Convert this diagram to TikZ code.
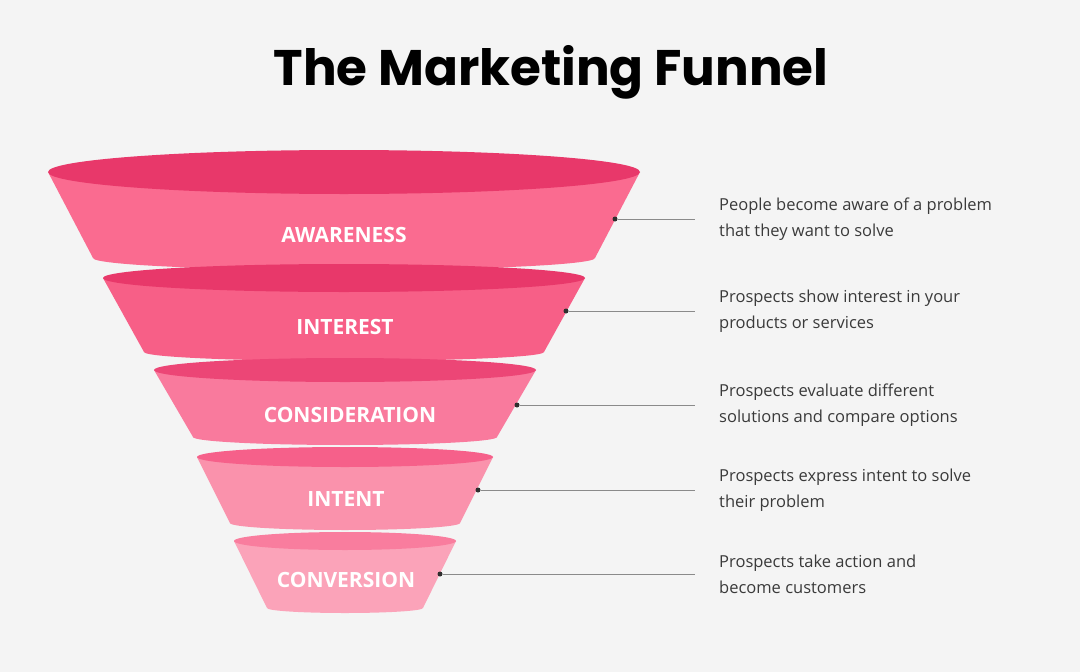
\documentclass[tikz,border=0pt]{standalone}
\usepackage{fontspec}
\setmainfont{Open Sans}
\newfontfamily\titlefont{Poppins}
\definecolor{bg}{HTML}{F4F4F4}
\definecolor{txt}{HTML}{3A3A3A}
\definecolor{ln}{HTML}{8A8A8A}
\definecolor{topA}{HTML}{E8386A}\definecolor{bodyA}{HTML}{FA6B90}
\definecolor{topB}{HTML}{E8386A}\definecolor{bodyB}{HTML}{F75F87}
\definecolor{topC}{HTML}{EC4676}\definecolor{bodyC}{HTML}{F97A9D}
\definecolor{topD}{HTML}{F6608A}\definecolor{bodyD}{HTML}{FA92AC}
\definecolor{topE}{HTML}{F97D9E}\definecolor{bodyE}{HTML}{FBA3B9}
\newcommand{\funseg}[9]{%
  \fill[#9] ({#1-#3},{-#2}) -- ({#1-#6},{-#5}) arc[start angle=180,end angle=360,x radius=#6,y radius=#7] -- ({#1+#3},{-#2}) -- cycle;
  \fill[#8] (#1,{-#2}) ellipse[x radius=#3,y radius=#4];}
\begin{document}
\begin{tikzpicture}[x=1pt,y=1pt,
  lab/.style={text=white,font=\fontsize{21}{24}\selectfont\bfseries,inner sep=0pt},
  desc/.style={text=txt,font=\fontsize{16.5}{26}\selectfont,align=left,anchor=west,inner sep=0pt},
  dot/.style={circle,fill=txt!80!black,minimum size=5pt,inner sep=0pt},
  conn/.style={ln,line width=0.9pt}]
\fill[bg] (0,0) rectangle (1080,-672);
\useasboundingbox (0,0) rectangle (1080,-672);
\node[font=\titlefont\fontsize{50}{56}\selectfont\bfseries,text=black] (title) at (551,-72) {The Marketing Funnel};
\funseg{344}{172}{296}{22}{258}{251}{12}{topA}{bodyA}
\funseg{344}{278}{241}{14}{352}{200}{9}{topB}{bodyB}
\funseg{345}{370}{191}{12}{437}{152}{8}{topC}{bodyC}
\funseg{345}{457}{148}{10}{523}{115}{7}{topD}{bodyD}
\funseg{345}{541}{111}{9}{608}{78}{5}{topE}{bodyE}
\node[lab] (l1) at (344,-235) {AWARENESS};
\node[lab] (l2) at (345,-327) {INTEREST};
\node[lab] (l3) at (350,-415) {CONSIDERATION};
\node[lab] (l4) at (346,-499) {INTENT};
\node[lab] (l5) at (346,-580) {CONVERSION};
\foreach \i/\dx/\y/\t in {1/615/219/{People become aware of a problem\\that they want to solve},
  2/566/311/{Prospects show interest in your\\products or services},
  3/517/405/{Prospects evaluate different\\solutions and compare options},
  4/478/490/{Prospects express intent to solve\\their problem},
  5/440/574/{Prospects take action and\\become customers}}{
  \node[dot] (d\i) at (\dx,-\y) {};
  \coordinate (e\i) at (695,-\y);
  \draw[conn] (d\i) -- (e\i);
  \node[desc] (t\i) at (719,-\y) {\t};
}
\end{tikzpicture}
\end{document}
